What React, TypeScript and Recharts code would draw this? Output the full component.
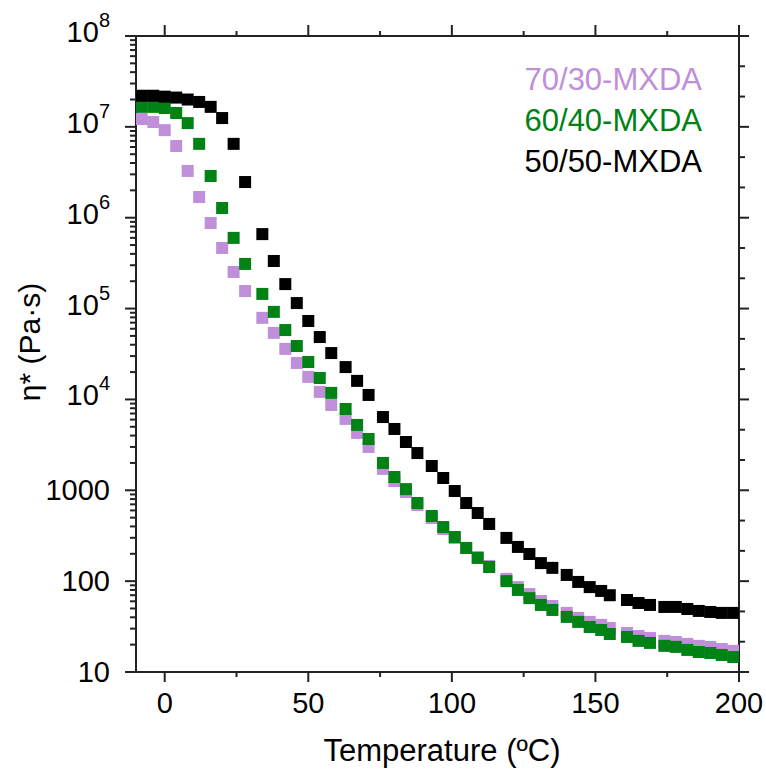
import React from "react";
import { ScatterChart, Scatter, XAxis, YAxis, Customized } from "recharts";

// temperature (°C) of each measurement, shared by the three samples
const temperatures = [
  -8, -4, 0, 4, 8, 12, 16, 20, 24, 28,
  34, 38, 42, 46, 50, 54, 58, 63, 67, 71,
  76, 80, 84, 88, 93, 97, 101, 105, 109, 113,
  119, 123, 127, 131, 135, 140, 144, 148, 152, 155,
  161, 165, 169, 174, 178, 182, 186, 190, 194, 198,
];

// complex viscosity η* (Pa·s)
const visc7030 = [
  1.22e7, 1.13e7, 9.2e6, 6.15e6, 3.27e6, 1.69e6, 8.75e5, 4.65e5, 2.53e5, 1.56e5,
  7.9e4, 5.4e4, 3.6e4, 2.52e4, 1.77e4, 1.21e4, 8690, 6100, 4280, 3000,
  1720, 1265, 957, 689, 496, 375, 299, 232, 184, 147,
  106, 86, 72, 60.5, 53.3, 44.7, 39.4, 35.6, 33, 30.5,
  26.9, 24.9, 23.7, 22.0, 21.4, 20.4, 19.4, 18.9, 17.9, 17.1,
];

const visc6040 = [
  1.66e7, 1.66e7, 1.61e7, 1.42e7, 1.1e7, 6.5e6, 2.88e6, 1.28e6, 6.0e5, 3.1e5,
  1.45e5, 9.2e4, 5.8e4, 3.87e4, 2.58e4, 1.72e4, 1.18e4, 7850, 5240, 3670,
  2000, 1400, 1030, 724, 521, 394, 306, 232, 180, 143,
  100, 80, 65, 54.7, 48.2, 40.4, 35.6, 31.3, 29.0, 26.2,
  24.3, 22.0, 20.9, 19.4, 18.9, 17.5, 16.6, 16.2, 15.4, 14.6,
];

const visc5050 = [
  2.2e7, 2.2e7, 2.15e7, 2.1e7, 2.0e7, 1.88e7, 1.66e7, 1.25e7, 6.5e6, 2.47e6,
  6.6e5, 3.34e5, 1.86e5, 1.15e5, 7.3e4, 4.86e4, 3.24e4, 2.27e4, 1.6e4, 1.12e4,
  6400, 4730, 3400, 2570, 1850, 1365, 982, 724, 562, 426,
  299, 238, 199, 158, 140, 117, 98, 86, 78, 70,
  62, 57.5, 54.7, 52, 52, 49.4, 47, 45.8, 44.7, 44.7,
];

const seriesNames = ["70/30-MXDA", "60/40-MXDA", "50/50-MXDA"];
const seriesColors = ["#c08fda", "#008214", "#000000"];

const xTicks = [0, 25, 50, 75, 100, 125, 150, 175, 200];
const yDecades = [10, 100, 1000, 1e4, 1e5, 1e6, 1e7, 1e8];
const yMinorFactors = [2, 3, 4, 5, 6, 7, 8, 9];

const FONT = '"Liberation Sans", Arial, sans-serif';
const AXIS = "#222";

const yTicksLeft: number[] = [];
yDecades.forEach((d, i) => {
  yTicksLeft.push(d);
  if (i < yDecades.length - 1) yMinorFactors.forEach((f) => yTicksLeft.push(d * f));
});
// right frame carries a tick every third of a decade
const yTicksRight: number[] = [];
for (let k = 3; k <= 24; k++) yTicksRight.push(Math.pow(10, k / 3));

const toPoints = (vals: number[]) => temperatures.map((t, i) => ({ t, v: vals[i] }));
const allSeries = [visc7030, visc6040, visc5050].map(toPoints);

const isDecade = (v: number) => Math.abs(Math.log10(v) - Math.round(Math.log10(v))) < 1e-6;

function LeftTick(props: any) {
  const { x, y, payload } = props;
  const v = payload.value;
  if (!isDecade(v)) return <path d={`M${x - 6},${y}H${x}`} stroke={AXIS} strokeWidth={2} />;
  const exp = Math.round(Math.log10(v));
  return (
    <g>
      <path d={`M${x - 11},${y}H${x}`} stroke={AXIS} strokeWidth={2} />
      {v >= 1e4 ? (
        <text x={x - 26} y={y + 6} textAnchor="end" fontSize={29} fontFamily={FONT} fill="#000">
          <tspan>10</tspan>
          <tspan dy={-15} fontSize={20}>{exp}</tspan>
        </text>
      ) : (
        <text x={x - 26} y={y + 10} textAnchor="end" fontSize={29} fontFamily={FONT} fill="#000">
          {v}
        </text>
      )}
    </g>
  );
}

function RightTick(props: any) {
  const { x, y, payload } = props;
  const len = isDecade(payload.value) ? 10 : 6;
  return <path d={`M${x},${y}H${x + len}`} stroke={AXIS} strokeWidth={2} />;
}

function BottomTick(props: any) {
  const { x, y, payload } = props;
  const major = payload.value % 50 === 0;
  return (
    <g>
      <path d={`M${x},${y}V${y + (major ? 10 : 5)}`} stroke={AXIS} strokeWidth={2} />
      {major && (
        <text x={x} y={y + 41} textAnchor="middle" fontSize={29} fontFamily={FONT} fill="#000">
          {payload.value}
        </text>
      )}
    </g>
  );
}

function TopTick(props: any) {
  const { x, y, payload } = props;
  const major = payload.value % 50 === 0;
  return <path d={`M${x},${y}V${y - (major ? 11 : 5)}`} stroke={AXIS} strokeWidth={2} />;
}

const squareShape = (color: string) => (props: any) => (
  <rect x={props.cx - 6} y={props.cy - 6} width={12} height={12} fill={color} />
);
const noShape = () => <g />;

function Annotations() {
  return (
    <g fontFamily={FONT}>
      {seriesNames.map((name, i) => (
        <text key={name} x={702} y={90 + i * 41} textAnchor="end" fontSize={31} fill={seriesColors[i]}>
          {name}
        </text>
      ))}
      <text x={442} y={761} textAnchor="middle" fontSize={31} fill="#000">
        Temperature (ºC)
      </text>
      <text x={40} y={342} textAnchor="middle" fontSize={30} fill="#000" transform="rotate(-90 40 342)">
        η* (Pa·s)
      </text>
    </g>
  );
}

export default function App() {
  return (
    <div style={{ position: "absolute", left: 0, top: 0, background: "#fff" }}>
      <ScatterChart width={766} height={769} margin={{ top: 35, right: 26, left: 0, bottom: 0 }}>
        <XAxis
          dataKey="t"
          type="number"
          domain={[-10, 200]}
          ticks={xTicks}
          interval={0}
          height={97}
          tick={BottomTick}
          tickSize={0}
          tickMargin={0}
          tickLine={false}
          axisLine={{ stroke: AXIS, strokeWidth: 2 }}
          allowDataOverflow
        />
        <XAxis
          xAxisId="top"
          orientation="top"
          dataKey="t"
          type="number"
          domain={[-10, 200]}
          ticks={xTicks}
          interval={0}
          height={1}
          tick={TopTick}
          tickSize={0}
          tickMargin={0}
          tickLine={false}
          axisLine={{ stroke: AXIS, strokeWidth: 2 }}
          allowDataOverflow
        />
        <YAxis
          dataKey="v"
          type="number"
          scale="log"
          domain={[10, 1e8]}
          ticks={yTicksLeft}
          width={136}
          tick={LeftTick}
          tickSize={0}
          tickMargin={0}
          tickLine={false}
          axisLine={{ stroke: AXIS, strokeWidth: 2 }}
          interval={0}
          allowDataOverflow
        />
        <YAxis
          yAxisId="right"
          orientation="right"
          dataKey="v"
          type="number"
          scale="log"
          domain={[10, 1e8]}
          ticks={yTicksRight}
          width={1}
          tick={RightTick}
          tickSize={0}
          tickMargin={0}
          tickLine={false}
          axisLine={{ stroke: AXIS, strokeWidth: 2 }}
          interval={0}
          allowDataOverflow
        />
        {allSeries.map((data, i) => (
          <Scatter
            key={seriesNames[i]}
            name={seriesNames[i]}
            data={data}
            fill={seriesColors[i]}
            shape={squareShape(seriesColors[i])}
            isAnimationActive={false}
          />
        ))}
        {/* invisible copy so the top and right frame axes are laid out */}
        <Scatter
          xAxisId="top"
          yAxisId="right"
          data={allSeries[2]}
          shape={noShape}
          legendType="none"
          isAnimationActive={false}
        />
        <Customized component={Annotations} />
      </ScatterChart>
    </div>
  );
}
